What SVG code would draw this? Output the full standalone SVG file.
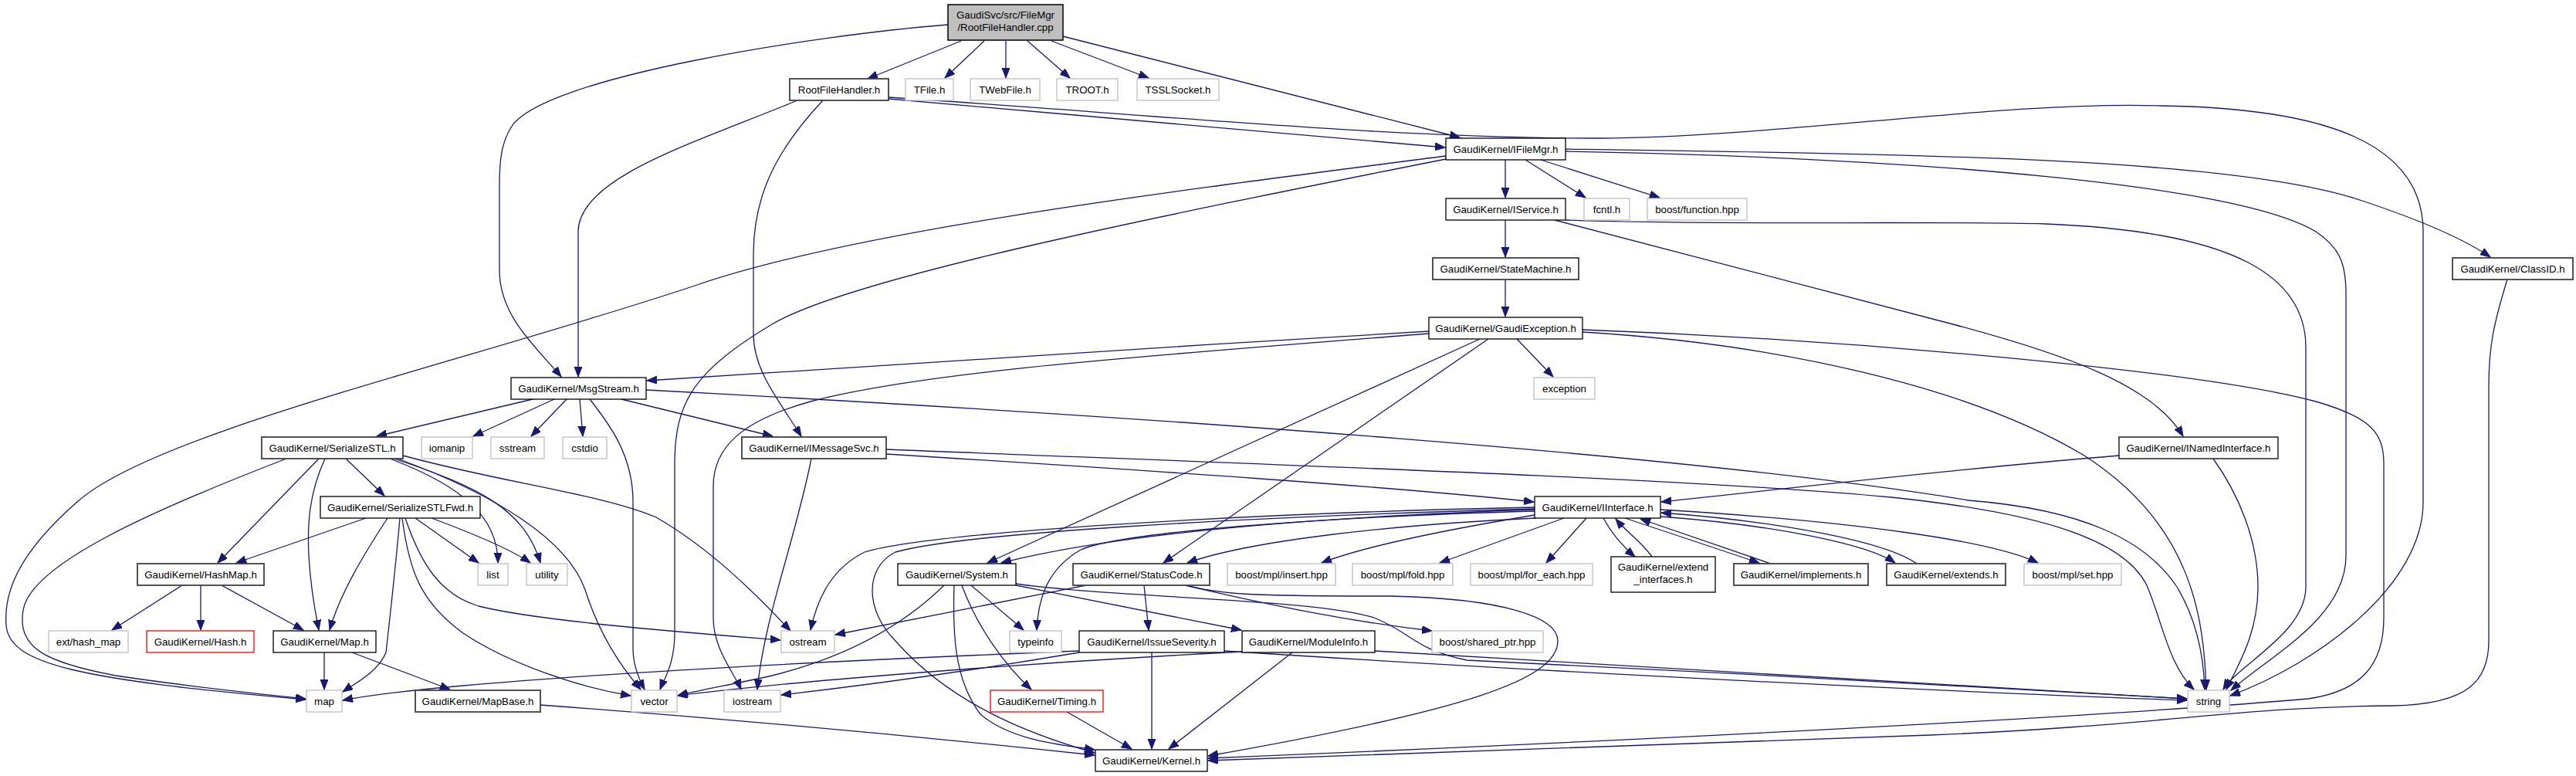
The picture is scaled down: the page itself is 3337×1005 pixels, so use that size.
<svg xmlns="http://www.w3.org/2000/svg" width="3337" height="1005" viewBox="0 0 3337 1005">
<defs>
<marker id="ah" markerUnits="userSpaceOnUse" markerWidth="15" markerHeight="12" refX="13" refY="5" orient="auto"><path d="M0,0 L13,5 L0,10 z" fill="#191970" stroke="#191970" stroke-width="1"/></marker>
<style>
.e{fill:none;stroke:#191970;stroke-width:1.3;marker-end:url(#ah)}
.n rect{fill:#ffffff;stroke:#000000;stroke-width:1.3}
.n.d rect{stroke:#404040;stroke-width:1.8}
.n.x rect{stroke:#bfbfbf;stroke-width:1.3}
.n.r rect{stroke:#ff0000;stroke-width:1.3}
.n.m rect{fill:#bfbfbf;stroke:#000000;stroke-width:1.5}
.n text{font-family:"Liberation Sans",Arial,sans-serif;font-size:13.3px;fill:#000000;text-anchor:middle}
</style>
</defs>
<rect x="0" y="0" width="3337" height="1005" fill="#ffffff"/>
<g id="connectors">
<path class="e" d="M1245,53 L1124,102"/>
<path class="e" d="M1275,53 L1224,101"/>
<path class="e" d="M1303,53 L1303,101"/>
<path class="e" d="M1331,53 L1386,101"/>
<path class="e" d="M1362,53 L1488,101"/>
<path class="e" d="M1377,47 L1891,178"/>
<path class="e" d="M1228,32 C1060,45 700,100 662,165 C650,185 647,205 647,240 L647,350 C647,410 695,450 727,488"/>
<path class="e" d="M1151,128 C1400,150 1700,175 1872,191"/>
<path class="e" d="M1151,126 C1450,145 1800,180 2073,179 C2300,178 2600,130 2800,137 C3000,140 3139,180 3139,300 L3139,650 C3139,760 3000,860 2889,901"/>
<path class="e" d="M1033,130 C900,185 749,230 749,300 L749,488"/>
<path class="e" d="M1066,130 C1000,200 976,260 976,330 L976,433 C976,480 1010,520 1038,565"/>
<path class="e" d="M1950,207 L1950,256"/>
<path class="e" d="M1976,207 L2054,256"/>
<path class="e" d="M1996,207 L2150,256"/>
<path class="e" d="M2028,193 C2500,200 2900,205 3060,260 C3150,290 3200,315 3226,333"/>
<path class="e" d="M2028,196 C2500,205 2900,240 3000,300 C3030,320 3039,340 3039,380 L3039,720 C3039,800 2940,850 2890,894"/>
<path class="e" d="M1873,202 C1500,250 1100,300 900,370 C600,470 200,560 100,650 C20,720 5,770 8,810 C12,860 100,880 396,906"/>
<path class="e" d="M1873,206 C1500,280 1100,360 1000,420 C900,480 874,520 874,600 L874,820 C874,860 860,880 855,893"/>
<path class="e" d="M1950,285 L1950,333"/>
<path class="e" d="M2014,285 L2530,420 C2680,460 2790,500 2828,565"/>
<path class="e" d="M2028,285 C2200,292 2500,286 2650,290 C2900,300 2987,360 2987,450 L2987,760 C2987,820 2900,860 2880,893"/>
<path class="e" d="M1950,362 L1950,410"/>
<path class="e" d="M3248,362 C3230,420 3224,450 3224,500 L3224,830 C3224,880 3200,912 3100,914 C2900,915 2800,940 2500,952 C2100,965 1800,975 1565,985"/>
<path class="e" d="M1851,429 C1500,450 1100,475 838,493"/>
<path class="e" d="M1851,432 C1500,460 1200,480 1050,520 C960,545 924,580 924,630 L924,800 C924,840 950,870 960,893"/>
<path class="e" d="M1965,439 L2012,488"/>
<path class="e" d="M1917,439 L1279,729"/>
<path class="e" d="M1928,439 L1507,729"/>
<path class="e" d="M2050,430 C2300,445 2550,500 2700,590 C2840,680 2855,800 2858,893"/>
<path class="e" d="M2050,427 C2400,440 2850,480 3000,520 C3070,540 3088,560 3088,600 L3088,800 C3088,860 3060,895 2990,905 C2700,930 2100,960 1565,982"/>
<path class="e" d="M690,517 L488,565"/>
<path class="e" d="M718,517 L613,565"/>
<path class="e" d="M734,517 L688,565"/>
<path class="e" d="M751,517 L755,565"/>
<path class="e" d="M764,517 C790,550 820,590 820,650 L820,840 C820,860 828,880 835,893"/>
<path class="e" d="M805,517 L1001,565"/>
<path class="e" d="M837,505 C1500,540 2200,590 2550,648 C2700,660 2780,700 2820,760 C2850,810 2855,860 2856,893"/>
<path class="e" d="M448,594 L498,642"/>
<path class="e" d="M413,594 L282,729"/>
<path class="e" d="M421,594 C400,640 398,680 400,720 C403,770 410,800 413,816"/>
<path class="e" d="M371,594 C200,660 40,730 30,790 C22,840 60,858 150,875 C250,890 330,898 396,905"/>
<path class="e" d="M505,594 C600,630 645,670 645,729"/>
<path class="e" d="M510,594 C620,630 680,660 700,729"/>
<path class="e" d="M515,594 C640,640 740,700 760,770 C780,830 810,870 830,893"/>
<path class="e" d="M522,590 C650,625 780,640 850,670 C920,710 980,770 1024,817"/>
<path class="e" d="M474,671 L306,729"/>
<path class="e" d="M502,671 C470,720 440,770 427,816"/>
<path class="e" d="M518,671 C512,740 505,800 500,845 C490,870 460,885 444,896"/>
<path class="e" d="M538,671 L620,729"/>
<path class="e" d="M559,671 C610,690 660,710 687,729"/>
<path class="e" d="M525,671 C545,730 570,770 620,785 C700,805 900,820 1011,829"/>
<path class="e" d="M521,671 C530,740 545,780 600,820 C660,860 750,890 817,901"/>
<path class="e" d="M236,758 L145,816"/>
<path class="e" d="M260,758 L260,816"/>
<path class="e" d="M287,758 L393,816"/>
<path class="e" d="M420,845 L420,893"/>
<path class="e" d="M456,845 L583,893"/>
<path class="e" d="M700,913 C1000,935 1250,960 1418,978"/>
<path class="e" d="M1148,588 C1500,610 1800,630 1987,650"/>
<path class="e" d="M1051,594 C1030,700 990,800 981,893"/>
<path class="e" d="M1148,582 C1600,600 2200,620 2450,644 C2650,665 2750,700 2780,756 C2800,800 2808,860 2842,893"/>
<path class="e" d="M2745,590 C2500,610 2300,635 2152,650"/>
<path class="e" d="M2867,594 C2900,640 2925,700 2925,760 C2925,820 2900,860 2884,893"/>
<path class="e" d="M1988,660 C1700,670 1450,690 1297,729"/>
<path class="e" d="M1990,671 C1800,680 1620,700 1538,729"/>
<path class="e" d="M1988,657 C1600,665 1200,690 1120,715 C1080,735 1060,770 1050,816"/>
<path class="e" d="M1988,659 C1600,670 1250,690 1160,715 C1120,735 1120,790 1160,830 C1230,910 1330,950 1418,975"/>
<path class="e" d="M1988,662 C1700,670 1450,690 1400,712 C1360,735 1345,770 1343,816"/>
<path class="e" d="M1988,667 C1850,690 1760,710 1712,729"/>
<path class="e" d="M2026,671 L1865,729"/>
<path class="e" d="M2055,671 L2003,729"/>
<path class="e" d="M2077,671 C2090,695 2105,710 2118,721"/>
<path class="e" d="M2140,721 C2125,700 2108,690 2093,672"/>
<path class="e" d="M2105,671 L2279,729"/>
<path class="e" d="M2294,730 L2125,672"/>
<path class="e" d="M2151,669 C2300,680 2420,705 2455,729"/>
<path class="e" d="M2483,730 C2440,700 2300,675 2152,664"/>
<path class="e" d="M2151,660 C2400,675 2580,700 2640,729"/>
<path class="e" d="M1223,758 C1170,810 1100,850 1000,875 C940,888 900,895 878,901"/>
<path class="e" d="M1236,758 C1234,820 1236,880 1270,925 C1310,960 1380,965 1418,971"/>
<path class="e" d="M1258,758 L1326,816"/>
<path class="e" d="M1246,758 C1265,810 1300,860 1336,893"/>
<path class="e" d="M1316,758 L1608,816"/>
<path class="e" d="M1316,756 C1450,775 1700,775 1780,800 C1830,820 1830,840 1900,855 C2200,870 2600,890 2833,905"/>
<path class="e" d="M1407,758 L1082,822"/>
<path class="e" d="M1482,758 L1488,816"/>
<path class="e" d="M1535,758 C1650,785 1750,805 1855,817"/>
<path class="e" d="M1538,758 C1580,770 1620,772 1800,772 C1950,775 2018,800 2018,830 C2018,880 1900,920 1565,979"/>
<path class="e" d="M1382,922 L1466,970"/>
<path class="e" d="M1398,845 C1250,870 1100,890 1012,900"/>
<path class="e" d="M1398,843 C1100,855 800,870 600,888 C520,895 480,900 444,907"/>
<path class="e" d="M1586,843 C2000,870 2500,895 2833,907"/>
<path class="e" d="M1492,845 L1492,970"/>
<path class="e" d="M1674,845 L1514,970"/>
<path class="e" d="M1781,843 C2200,868 2600,893 2833,905"/>
<path class="e" d="M1609,844 C1300,860 1000,885 878,901"/>
</g>
<g id="node_top" class="n m"><rect x="1228" y="6" width="149" height="46"/><text x="1302.5" y="24">GaudiSvc/src/FileMgr</text><text x="1302.5" y="40">/RootFileHandler.cpp</text></g>
<g id="node_RootFileHandler" class="n d"><rect x="1023" y="102" width="128" height="28"/><text x="1087" y="120.5">RootFileHandler.h</text></g>
<g id="node_TFile" class="n x"><rect x="1173" y="102" width="62" height="28"/><text x="1204" y="120.5">TFile.h</text></g>
<g id="node_TWebFile" class="n x"><rect x="1257" y="102" width="90" height="28"/><text x="1302" y="120.5">TWebFile.h</text></g>
<g id="node_TROOT" class="n x"><rect x="1369" y="102" width="79" height="28"/><text x="1408.5" y="120.5">TROOT.h</text></g>
<g id="node_TSSLSocket" class="n x"><rect x="1473" y="102" width="106" height="28"/><text x="1526" y="120.5">TSSLSocket.h</text></g>
<g id="node_IFileMgr" class="n"><rect x="1873" y="179" width="155" height="28"/><text x="1950.5" y="197.5">GaudiKernel/IFileMgr.h</text></g>
<g id="node_IService" class="n"><rect x="1873" y="257" width="155" height="28"/><text x="1950.5" y="275.5">GaudiKernel/IService.h</text></g>
<g id="node_fcntl" class="n x"><rect x="2052" y="257" width="59" height="28"/><text x="2081.5" y="275.5">fcntl.h</text></g>
<g id="node_boost_function" class="n x"><rect x="2134" y="257" width="129" height="28"/><text x="2198.5" y="275.5">boost/function.hpp</text></g>
<g id="node_StateMachine" class="n d"><rect x="1856" y="334" width="189" height="28"/><text x="1950.5" y="352.5">GaudiKernel/StateMachine.h</text></g>
<g id="node_ClassID" class="n d"><rect x="3177" y="334" width="156" height="28"/><text x="3255" y="352.5">GaudiKernel/ClassID.h</text></g>
<g id="node_GaudiException" class="n"><rect x="1851" y="411" width="199" height="28"/><text x="1950.5" y="429.5">GaudiKernel/GaudiException.h</text></g>
<g id="node_MsgStream" class="n"><rect x="662" y="489" width="175" height="28"/><text x="749.5" y="507.5">GaudiKernel/MsgStream.h</text></g>
<g id="node_exception" class="n x"><rect x="1987" y="489" width="79" height="28"/><text x="2026.5" y="507.5">exception</text></g>
<g id="node_SerializeSTL" class="n d"><rect x="339" y="566" width="183" height="28"/><text x="430.5" y="584.5">GaudiKernel/SerializeSTL.h</text></g>
<g id="node_iomanip" class="n x"><rect x="546" y="566" width="66" height="28"/><text x="579" y="584.5">iomanip</text></g>
<g id="node_sstream" class="n x"><rect x="636" y="566" width="69" height="28"/><text x="670.5" y="584.5">sstream</text></g>
<g id="node_cstdio" class="n x"><rect x="729" y="566" width="57" height="28"/><text x="757.5" y="584.5">cstdio</text></g>
<g id="node_IMessageSvc" class="n d"><rect x="961" y="566" width="187" height="28"/><text x="1054.5" y="584.5">GaudiKernel/IMessageSvc.h</text></g>
<g id="node_INamedInterface" class="n"><rect x="2745" y="566" width="206" height="28"/><text x="2848" y="584.5">GaudiKernel/INamedInterface.h</text></g>
<g id="node_SerializeSTLFwd" class="n"><rect x="415" y="643" width="207" height="28"/><text x="518.5" y="661.5">GaudiKernel/SerializeSTLFwd.h</text></g>
<g id="node_IInterface" class="n"><rect x="1988" y="643" width="163" height="28"/><text x="2069.5" y="661.5">GaudiKernel/IInterface.h</text></g>
<g id="node_HashMap" class="n d"><rect x="178" y="730" width="164" height="28"/><text x="260" y="748.5">GaudiKernel/HashMap.h</text></g>
<g id="node_list" class="n x"><rect x="619" y="730" width="39" height="28"/><text x="638.5" y="748.5">list</text></g>
<g id="node_utility" class="n x"><rect x="682" y="730" width="53" height="28"/><text x="708.5" y="748.5">utility</text></g>
<g id="node_System" class="n"><rect x="1163" y="730" width="153" height="28"/><text x="1239.5" y="748.5">GaudiKernel/System.h</text></g>
<g id="node_StatusCode" class="n d"><rect x="1390" y="730" width="177" height="28"/><text x="1478.5" y="748.5">GaudiKernel/StatusCode.h</text></g>
<g id="node_mpl_insert" class="n x"><rect x="1590" y="730" width="140" height="28"/><text x="1660" y="748.5">boost/mpl/insert.hpp</text></g>
<g id="node_mpl_fold" class="n x"><rect x="1752" y="730" width="130" height="28"/><text x="1817" y="748.5">boost/mpl/fold.hpp</text></g>
<g id="node_mpl_for_each" class="n x"><rect x="1905" y="730" width="158" height="28"/><text x="1984" y="748.5">boost/mpl/for_each.hpp</text></g>
<g id="node_extend_interfaces" class="n"><rect x="2087" y="721" width="135" height="46"/><text x="2154.5" y="739">GaudiKernel/extend</text><text x="2154.5" y="755">_interfaces.h</text></g>
<g id="node_implements" class="n d"><rect x="2246" y="730" width="174" height="28"/><text x="2333" y="748.5">GaudiKernel/implements.h</text></g>
<g id="node_extends" class="n d"><rect x="2444" y="730" width="154" height="28"/><text x="2521" y="748.5">GaudiKernel/extends.h</text></g>
<g id="node_mpl_set" class="n x"><rect x="2622" y="730" width="126" height="28"/><text x="2685" y="748.5">boost/mpl/set.hpp</text></g>
<g id="node_ext_hash_map" class="n x"><rect x="63" y="817" width="103" height="28"/><text x="114.5" y="835.5">ext/hash_map</text></g>
<g id="node_Hash" class="n r"><rect x="190" y="817" width="139" height="28"/><text x="259.5" y="835.5">GaudiKernel/Hash.h</text></g>
<g id="node_Map" class="n"><rect x="354" y="817" width="133" height="28"/><text x="420.5" y="835.5">GaudiKernel/Map.h</text></g>
<g id="node_ostream" class="n x"><rect x="1012" y="817" width="69" height="28"/><text x="1046.5" y="835.5">ostream</text></g>
<g id="node_typeinfo" class="n x"><rect x="1308" y="817" width="67" height="28"/><text x="1341.5" y="835.5">typeinfo</text></g>
<g id="node_IssueSeverity" class="n"><rect x="1398" y="817" width="188" height="28"/><text x="1492" y="835.5">GaudiKernel/IssueSeverity.h</text></g>
<g id="node_ModuleInfo" class="n"><rect x="1609" y="817" width="172" height="28"/><text x="1695" y="835.5">GaudiKernel/ModuleInfo.h</text></g>
<g id="node_shared_ptr" class="n x"><rect x="1855" y="817" width="144" height="28"/><text x="1927" y="835.5">boost/shared_ptr.hpp</text></g>
<g id="node_map" class="n x"><rect x="397" y="894" width="46" height="28"/><text x="420" y="912.5">map</text></g>
<g id="node_MapBase" class="n d"><rect x="538" y="894" width="162" height="28"/><text x="619" y="912.5">GaudiKernel/MapBase.h</text></g>
<g id="node_vector" class="n x"><rect x="818" y="894" width="59" height="28"/><text x="847.5" y="912.5">vector</text></g>
<g id="node_iostream" class="n x"><rect x="938" y="894" width="73" height="28"/><text x="974.5" y="912.5">iostream</text></g>
<g id="node_Timing" class="n r"><rect x="1283" y="894" width="146" height="28"/><text x="1356" y="912.5">GaudiKernel/Timing.h</text></g>
<g id="node_string" class="n x"><rect x="2834" y="894" width="54" height="28"/><text x="2861" y="912.5">string</text></g>
<g id="node_Kernel" class="n"><rect x="1419" y="971" width="145" height="28"/><text x="1491.5" y="989.5">GaudiKernel/Kernel.h</text></g>
</svg>
